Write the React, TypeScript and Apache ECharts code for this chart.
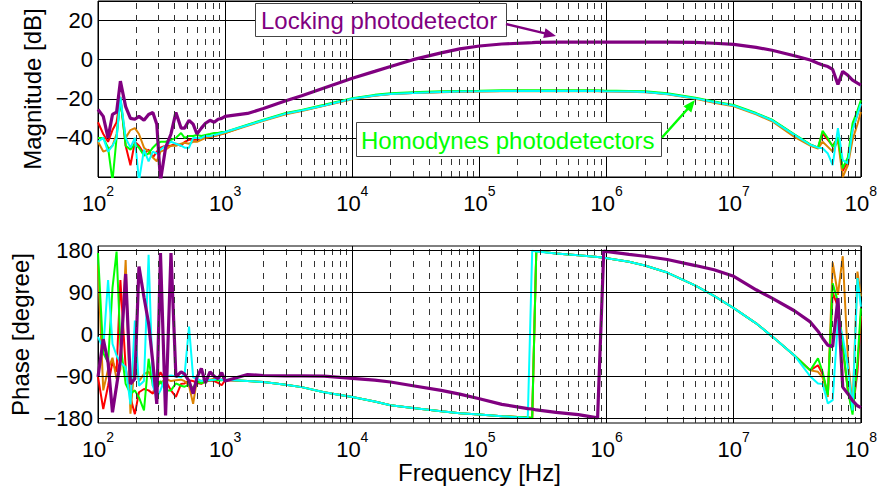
import { useEffect, useRef } from "react";
import * as echarts from "echarts";

// Frequencies (Hz) shared by every trace
const freq = [
  100, 110, 120, 130, 140, 150, 165, 180, 195, 210, 230, 250, 270, 290, 310, 340, 375, 410, 450, 480,
  520, 560, 600, 650, 700, 760, 820, 880, 940, 1000,
  1500, 2000, 3000, 4000, 6000, 1e4, 1.5e4, 2e4, 3e4, 5e4, 7e4, 1e5, 1.5e5, 2.4e5, 2.6e5, 2.8e5,
  4e5, 6e5, 8.5e5, 9.5e5, 1.5e6, 2e6, 3e6, 5e6, 7e6, 1e7, 1.5e7, 2e7, 3e7, 4e7, 4.6e7, 5e7, 5.5e7,
  6e7, 6.6e7, 7.2e7, 7.9e7, 8.6e7, 9.4e7, 1e8,
];

// Magnitude [dB]
const magLocking = [
  -25.5, -29, -40, -28, -26.8, -11, -24, -30, -30.5, -29, -31, -28, -27, -33, -62, -45, -38, -27, -35, -35,
  -31, -33, -38, -35, -32.5, -31, -32, -30.5, -30, -29,
  -27.5, -25, -21, -18.5, -14.5, -9.5, -6, -3.5, 0, 3.5, 5.5, 7, 8, 8.6, 8.7, 8.8,
  9, 9, 9, 9, 9, 9, 9, 8.8, 8.4, 7.8, 6.3, 4.8, 2, -0.2, -1.8, -2.7, -3.5,
  -5, -12.7, -6, -8, -10.5, -12, -13,
];
const magRed = [
  -32, -38, -42, -36, -32, -19, -44, -54, -42, -44, -48, -46, -50, -47, -45, -44, -44, -43, -44, -42,
  -41, -41, -41, -40, -40, -39.5, -39, -38.5, -38, -37.5,
  -33.5, -31, -27.6, -26, -23.4, -20, -18.3, -17.5, -17, -16.5, -16.3, -16.2, -16, -16, -16, -16,
  -16, -16, -16, -16.1, -16.3, -16.5, -17.5, -19.8, -21.7, -23.5, -27.6, -31, -38.5, -43.5, -45, -37.8, -41,
  -44, -40, -57, -52, -36, -28, -23,
];
const magOrange = [
  -42, -47, -46, -44, -38, -21, -40, -36, -35, -38, -45, -47, -50, -52, -47, -46, -44, -44, -43, -42.5,
  -43, -42, -42, -41, -40, -39.5, -39, -38.5, -38, -37.5,
  -33.8, -31.3, -27.9, -26.3, -23.6, -20.2, -18.4, -17.6, -17.1, -16.6, -16.4, -16.3, -16.1, -16.1, -16.1, -16.1,
  -16.1, -16.1, -16.1, -16.2, -16.4, -16.6, -17.7, -20, -22, -23.8, -28, -31.5, -39.5, -44, -45.5, -42, -44.6,
  -47, -41.2, -60, -54, -41, -33, -26.8,
];
const magGreen = [
  -40, -40, -45, -62, -40, -20, -44, -46, -43, -45, -49, -48, -45, -43, -42, -42, -41, -40, -37.5, -40,
  -39, -39, -38.5, -39, -38.5, -38, -37.5, -37.5, -37, -37,
  -33.2, -30.7, -27.3, -25.7, -23.1, -19.7, -18, -17.2, -16.7, -16.2, -16, -15.9, -15.7, -15.7, -15.7, -15.7,
  -15.7, -15.7, -15.7, -15.8, -16, -16.2, -17.2, -19.5, -21.4, -23.2, -27.3, -30.7, -38.2, -43.3, -45, -36.4, -40.2,
  -44.6, -39.5, -55.5, -50, -32.6, -26, -20.8,
];
const magCyan = [
  -42, -40, -47, -44, -40, -19, -40, -45, -40, -62, -46, -52, -47, -48, -46, -44, -42, -43, -44, -45,
  -45, -40, -40, -40, -39, -39, -38.5, -38, -37.5, -37,
  -33.5, -31, -27.6, -26, -23.4, -20, -18.3, -17.5, -17, -16.5, -16.3, -16.2, -16, -16, -16, -16,
  -16, -16, -16, -16.1, -16.3, -16.5, -17.5, -19.8, -21.7, -23.5, -27.6, -31, -38.5, -43.5, -45, -45.3, -48,
  -53.9, -35, -51.4, -53, -36, -28, -22.5,
];

// Phase [degree]
const phLocking = [
  -91, -10, -60, -167, -110, -55, 130, -106, -95, 146, 80, 24, -60, -149, 175, -174, 175, -91, -80, -85,
  -100, -127, -92, -73, -104, -80, -90, -95, -82, -100,
  -86, -88, -89, -89, -89.5, -94, -98, -102, -110, -120, -128, -138, -150, -159, -160, -162,
  -167, -172, -179, 179, 172, 168, 161, 148, 139, 125, 96, 78, 51, 27, 7, -8, -23,
  -26, 78, -113, -127, -142, -153, -157,
];
const phRed = [
  -91, -160, -110, -58, -80, 117, -70, -135, -171, -124, -117, -120, -127, -100, -81, -99, -120, -134, -106, -105,
  -99, -100, -104, -106, -100, -99, -100, -104, -109, -98,
  -100, -102, -108, -113, -124, -134, -144, -152, -158, -165, -169, -172, -175.5, -178, -179, 179,
  174, 170, 166.6, 165, 156, 148, 133, 105, 83, 56.5, 24, -4, -45, -77, -66, -85, -130,
  90, 60, -30, -120, -165, -80, 40,
];
const phOrange = [
  150, -120, -75, -50, -95, -75, 160, -170, -55, -100, -85, -80, -100, -100, -105, -95, -100, -98, -97, -100,
  -110, -149, -97, -100, -95, -97, -95, -98, -96, -97,
  -100, -102, -108, -113, -124, -134, -144, -152, -158, -165, -169, -172, -175.5, -178, -179, 179,
  174, 170, 166.6, 165, 156, 148, 133, 105, 83, 56.5, 24, -4, -45, -77, -80, -92, -134,
  155, 85, 168, -50, -155, 135, 82,
];
const phGreen = [
  175, -40, -60, 100, 178, -20, -106, -127, -120, -135, -163, -52, -110, -115, -100, -120, -120, -105, -110, -112,
  -108, -115, -100, -105, -100, -98, -97, -99, -98, -97,
  -100, -102, -108, -113, -124, -134, -144, -152, -158, -165, -169, -172, -175.5, -178, -179, 179,
  174, 170, 166.6, 165, 156, 148, 133, 105, 83, 56.5, 24, -4, -45, -77, -51, -80, -130,
  110, 70, -20, -120, -172, -60, 56,
];
const phCyan = [
  -5, -30, 117, -20, -45, -60, -70, -150, 30, -110, -100, 171, -110, -135, -120, -90, -88, -90, -92, -85,
  17, -92, -95, -100, -96, -98, -97, -95, -97, -97,
  -100, -102, -108, -113, -124, -134, -144, -152, -158, -165, -169, -172, -175.5, -179, 180, 178,
  174, 170, 166.6, 165, 156, 148, 133, 105, 83, 56.5, 24, -4, -45, -90, -105, -106, -148,
  -141, 31, -5, -69, -163, 121, 60,
];

// Axis / grid helpers
const decadeStarts = [100, 1e3, 1e4, 1e5, 1e6, 1e7];
const minorSteps = [2, 3, 4, 5, 6, 7, 8, 9];
const phaseTicks = [-180, -90, 0, 90, 180];
const magTicks = [-40, -20, 0, 20];

const FONT = '"Liberation Sans", Arial, Helvetica, sans-serif';
const PURPLE = "#800080";
const RED = "#ff0000";
const ORANGE = "#dc8200";
const GREEN = "#00ff00";
const CYAN = "#00ffff";

const minus = (v: number) => String(v).replace("-", "\u2212");

export default function App() {
  const ref = useRef<HTMLDivElement>(null);

  useEffect(() => {
    if (!ref.current) return;
    const chart = echarts.init(ref.current, undefined, { renderer: "svg" });

    const pairs = (vals: number[]) => freq.map((f, i) => [f, vals[i]]);
    const minorLines = decadeStarts.flatMap((d) => minorSteps.map((m) => ({ xAxis: d * m })));
    const dashStyle = { color: "#333", width: 1, type: [6, 6] as any };

    const xAxis = (gridIndex: number, withName: boolean) => ({
      type: "log",
      logBase: 10,
      min: 100,
      max: 1e8,
      splitNumber: 6,
      gridIndex,
      axisLine: { show: false },
      axisTick: { show: false },
      splitLine: { show: true, lineStyle: { color: "#000", width: 1 } },
      axisLabel: {
        margin: 7,
        formatter: (v: number) => `{a|10}{b|${Math.round(Math.log10(v))}}`,
        rich: {
          a: { fontSize: 22, lineHeight: 30, fontFamily: FONT, color: "#000", verticalAlign: "bottom" },
          b: { fontSize: 14, lineHeight: 14, fontFamily: FONT, color: "#000", verticalAlign: "top" },
        },
      },
      name: withName ? "Frequency [Hz]" : "",
      nameLocation: "middle",
      nameGap: 30,
      nameTextStyle: { fontSize: 24, fontFamily: FONT, color: "#000" },
    });

    const thin = (name: string, color: string, vals: number[], idx: number) => ({
      name,
      type: "line",
      xAxisIndex: idx,
      yAxisIndex: idx,
      data: pairs(vals),
      showSymbol: false,
      symbol: "none",
      silent: true,
      lineStyle: { color, width: 2 },
      itemStyle: { color },
    });
    const thick = (name: string, vals: number[], idx: number) => ({
      ...thin(name, PURPLE, vals, idx),
      lineStyle: { color: PURPLE, width: 3.2 },
    });

    const option: any = {
      animation: false,
      grid: [
        { left: 98, top: 1, width: 763, height: 176, show: true, borderColor: "#000", borderWidth: 1, backgroundColor: "#fff" },
        { left: 98, top: 246, width: 763, height: 177, show: true, borderColor: "#000", borderWidth: 1, backgroundColor: "#fff" },
      ],
      xAxis: [xAxis(0, false), xAxis(1, true)],
      yAxis: [
        {
          type: "value",
          gridIndex: 0,
          min: -60,
          max: 30,
          interval: 20,
          axisLine: { show: false },
          axisTick: { show: false },
          splitLine: { show: true, lineStyle: { color: "#000", width: 1 } },
          axisLabel: {
            showMinLabel: false,
            showMaxLabel: false,
            margin: 5,
            fontSize: 22,
            fontFamily: FONT,
            color: "#000",
            formatter: (v: number) => (magTicks.includes(v) ? minus(v) : ""),
          },
          name: "Magnitude [dB]",
          nameLocation: "middle",
          nameRotate: 90,
          nameGap: 50,
          nameTextStyle: { fontSize: 24, fontFamily: FONT, color: "#000" },
        },
        {
          type: "value",
          gridIndex: 1,
          min: -190,
          max: 190,
          interval: 10,
          axisLine: { show: false },
          axisTick: { show: false },
          splitLine: { show: false },
          axisLabel: {
            margin: 5,
            fontSize: 22,
            fontFamily: FONT,
            color: "#000",
            formatter: (v: number) => (phaseTicks.includes(v) ? minus(v) : ""),
          },
          name: "Phase [degree]",
          nameLocation: "middle",
          nameRotate: 90,
          nameGap: 62,
          nameTextStyle: { fontSize: 24, fontFamily: FONT, color: "#000" },
        },
      ],
      series: [
        {
          type: "line",
          xAxisIndex: 0,
          yAxisIndex: 0,
          data: [[1000, -1000]],
          showSymbol: false,
          symbol: "none",
          silent: true,
          lineStyle: { opacity: 0 },
          markLine: {
            silent: true,
            symbol: ["none", "none"],
            label: { show: false },
            lineStyle: dashStyle,
            emphasis: { disabled: true },
            data: minorLines,
          },
        },
        {
          type: "line",
          xAxisIndex: 1,
          yAxisIndex: 1,
          data: [[1000, -1000]],
          showSymbol: false,
          symbol: "none",
          silent: true,
          lineStyle: { opacity: 0 },
          markLine: {
            silent: true,
            symbol: ["none", "none"],
            label: { show: false },
            lineStyle: dashStyle,
            emphasis: { disabled: true },
            data: [
              ...minorLines,
              ...phaseTicks.map((v) => ({ yAxis: v, lineStyle: { color: "#000", width: 1, type: "solid" } })),
            ],
          },
        },
        thin("Red", RED, magRed, 0),
        thin("Orange", ORANGE, magOrange, 0),
        thin("Green", GREEN, magGreen, 0),
        thin("Cyan", CYAN, magCyan, 0),
        thick("Locking photodetector", magLocking, 0),
        thin("Red", RED, phRed, 1),
        thin("Orange", ORANGE, phOrange, 1),
        thin("Green", GREEN, phGreen, 1),
        thin("Cyan", CYAN, phCyan, 1),
        thick("Locking photodetector", phLocking, 1),
      ],
      graphic: [
        { type: "rect", z: 100, shape: { x: 255.5, y: 3.5, width: 251, height: 33 }, style: { fill: "#fff", stroke: "#444", lineWidth: 1 } },
        {
          type: "text",
          z: 101,
          x: 261,
          y: 20,
          style: { text: "Locking photodetector", fill: PURPLE, fontSize: 24, fontFamily: FONT, verticalAlign: "middle", textVerticalAlign: "middle" },
        },
        { type: "line", z: 101, shape: { x1: 506, y1: 24, x2: 545, y2: 33.4 }, style: { stroke: PURPLE, lineWidth: 2.5 } },
        { type: "polygon", z: 101, shape: { points: [[556, 36], [543.2, 38.1], [545.5, 28.3]] }, style: { fill: PURPLE } },
        { type: "rect", z: 100, shape: { x: 356.5, y: 122.5, width: 305, height: 34 }, style: { fill: "#fff", stroke: "#444", lineWidth: 1 } },
        {
          type: "text",
          z: 101,
          x: 361,
          y: 140,
          style: { text: "Homodynes photodetectors", fill: GREEN, fontSize: 24, fontFamily: FONT, verticalAlign: "middle", textVerticalAlign: "middle" },
        },
        { type: "line", z: 101, shape: { x1: 662, y1: 137.5, x2: 688, y2: 108.5 }, style: { stroke: GREEN, lineWidth: 2.5 } },
        { type: "polygon", z: 101, shape: { points: [[695, 100], [691.3, 112.5], [683.5, 106.2]] }, style: { fill: GREEN } },
      ],
    };

    chart.setOption(option);
    return () => chart.dispose();
  }, []);

  return <div ref={ref} style={{ position: "absolute", left: 0, top: 0, width: 880, height: 488 }} />;
}
